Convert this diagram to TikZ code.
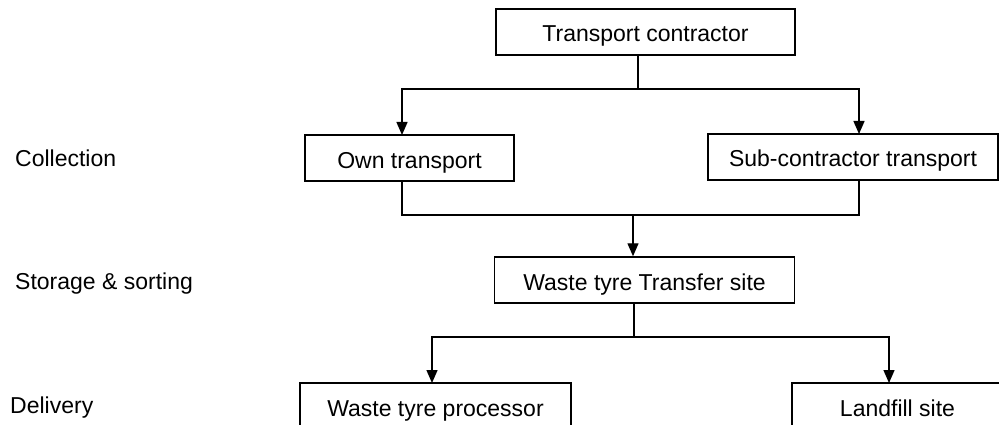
\documentclass[tikz,border=0pt]{standalone}
\usepackage{fontspec}
\setmainfont{Liberation Sans}
\usetikzlibrary{arrows.meta}
\begin{document}
\begin{tikzpicture}[x=1pt,y=-1pt,
  box/.style={draw, line width=1.5pt, inner sep=0pt, minimum height=46pt, text height=20pt, text depth=0pt, font=\fontsize{23}{27}\selectfont},
  lbl/.style={anchor=base west, inner sep=0pt, font=\fontsize{23}{27}\selectfont},
  conn/.style={line width=1.4pt},
  arr/.style={line width=1.4pt, -{Triangle[length=13pt,width=11pt]}}]
\useasboundingbox[fill=white] (0,0) rectangle (999,425);
% boxes
\node[box, minimum width=299pt] (tc) at (645.5,32) {Transport contractor};
\node[box, minimum width=209pt] (own) at (409.5,158) {Own transport};
\node[box, minimum width=290pt] (sub) at (853,157) {Sub-contractor transport};
\node[box, minimum width=300pt] (ts) at (644.5,280) {Waste tyre Transfer site};
\node[box, minimum width=271pt] (proc) at (435.5,406) {Waste tyre processor};
\node[box, minimum width=211pt] (land) at (897.5,406) {Landfill site};
% stage labels
\node[lbl] (lcol) at (15,166.5) {Collection};
\node[lbl] (lsto) at (15,289) {Storage \& sorting};
\node[lbl] (ldel) at (10,413) {Delivery};
% junction points
\coordinate (j1) at (638,89);
\coordinate (ownin) at (402,135);
\coordinate (subin) at (859,134);
\coordinate (j2) at (633,215);
\coordinate (ownout) at (402,181);
\coordinate (subout) at (859,180);
\coordinate (j3) at (634,337);
\coordinate (procin) at (432,383);
\coordinate (landin) at (889,383);
% connectors
\draw[conn] (tc.south -| j1) -- (j1);
\draw[arr] (j1) -| (ownin);
\draw[arr] (j1) -| (subin);
\draw[conn] (ownout) |- (j2) -| (subout);
\draw[arr] (j2) -- (ts.north -| j2);
\draw[conn] (ts.south -| j3) -- (j3);
\draw[arr] (j3) -| (procin);
\draw[arr] (j3) -| (landin);
\end{tikzpicture}
\end{document}
